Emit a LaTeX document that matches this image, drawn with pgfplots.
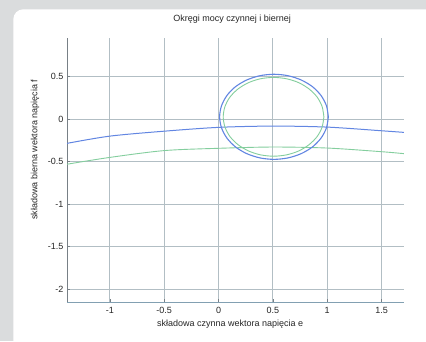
\documentclass[border=0pt]{standalone}
\usepackage{fontspec}
\setmainfont{Liberation Sans}
\usepackage{pgfplots}
\pgfplotsset{compat=1.18}
\definecolor{bgray}{RGB}{218,220,221}
\definecolor{gridc}{RGB}{178,190,196}
\definecolor{cblue}{RGB}{98,134,226}
\definecolor{cgreen}{RGB}{132,206,158}
\definecolor{axl}{RGB}{120,128,134}
\definecolor{axb}{RGB}{130,160,178}
\begin{document}
\begin{tikzpicture}
\useasboundingbox (0,0) rectangle (426pt,341pt);
\fill[bgray] (0,0) rectangle (426pt,341pt);
\fill[white, rounded corners=10pt] (13.3pt,-20pt) rectangle (450pt,331.7pt);
\begin{axis}[
  at={(67pt,39pt)}, anchor=south west,
  scale only axis, width=337pt, height=264pt,
  xmin=-1.394, xmax=1.706, ymin=-2.149, ymax=0.953,
  axis x line*=bottom, axis y line*=left,
  x axis line style={axb, line width=0.9pt, -},
  y axis line style={axl, line width=0.9pt, -},
  xtick={-1,-0.5,0,0.5,1,1.5},
  ytick={-2,-1.5,-1,-0.5,0,0.5},
  tick align=inside, major tick length=3pt,
  tick style={axl, line width=0.6pt},
  grid=major,
  major grid style={gridc, line width=0.9pt},
  /pgf/number format/assume math mode=true,
  ticklabel style={font=\fontsize{9}{10}\selectfont, text=black!85},
  xticklabel style={yshift=-2pt},
  title={Okręgi mocy czynnej i biernej},
  title style={font=\fontsize{9}{10}\selectfont, text=black!85, at={(axis description cs:0.49,1.05)}, anchor=center},
  xlabel={składowa czynna wektora napięcia e},
  xlabel style={font=\fontsize{9}{10}\selectfont, text=black!85, at={(axis description cs:0.484,-0.083)}, anchor=center},
  ylabel={składowa bierna wektora napięcia f},
  ylabel style={font=\fontsize{9}{10}\selectfont, text=black!85, at={(axis description cs:-0.095,0.576)}, anchor=center, rotate=0},
]
\addplot[cblue, line width=1pt, smooth] coordinates {
(-1.394,-0.285) (-1,-0.2) (-0.5,-0.142) (0,-0.097) (0.5,-0.082) (1,-0.094) (1.5,-0.137) (1.706,-0.156)
};
\addplot[cgreen, line width=0.9pt, smooth] coordinates {
(-1.394,-0.53) (-1,-0.45) (-0.5,-0.37) (0,-0.343) (0.5,-0.328) (1,-0.34) (1.5,-0.383) (1.706,-0.406)
};
\addplot[cblue, line width=1.1pt, smooth] coordinates {
(1.010,0.027) (0.993,0.156) (0.943,0.277) (0.864,0.381) (0.760,0.460) (0.639,0.510)
(0.510,0.527) (0.381,0.510) (0.260,0.460) (0.156,0.381) (0.077,0.277) (0.027,0.156)
(0.010,0.027) (0.027,-0.102) (0.077,-0.223) (0.156,-0.327) (0.260,-0.406) (0.381,-0.456)
(0.510,-0.473) (0.639,-0.456) (0.760,-0.406) (0.864,-0.327) (0.943,-0.223) (0.993,-0.102)
(1.010,0.027)
};
\addplot[cgreen, line width=0.9pt, smooth] coordinates {
(0.969,0.027) (0.953,0.147) (0.907,0.259) (0.833,0.354) (0.738,0.428) (0.626,0.474)
(0.506,0.490) (0.386,0.474) (0.275,0.428) (0.179,0.354) (0.105,0.259) (0.059,0.147)
(0.043,0.027) (0.059,-0.093) (0.105,-0.205) (0.179,-0.300) (0.275,-0.374) (0.386,-0.420)
(0.506,-0.436) (0.626,-0.420) (0.738,-0.374) (0.833,-0.300) (0.907,-0.205) (0.953,-0.093)
(0.969,0.027)
};
\end{axis}
\end{tikzpicture}
\end{document}
